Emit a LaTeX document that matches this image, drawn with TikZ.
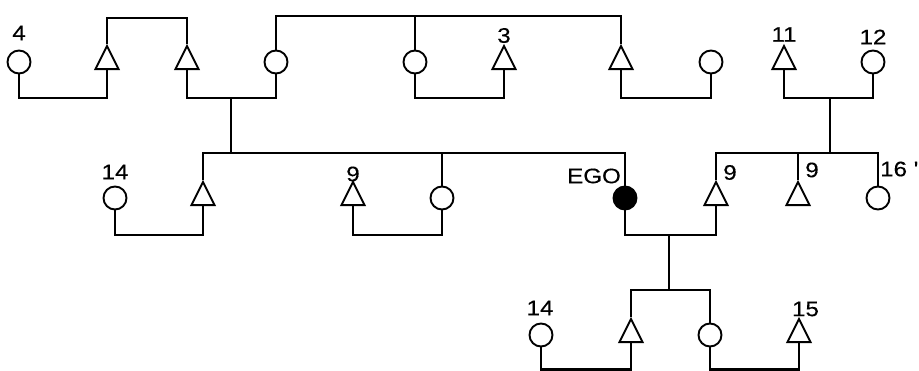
\documentclass[tikz,border=0pt]{standalone}
\usepackage{fontspec}
\usepackage{graphicx}
\setmainfont{Liberation Sans}
\newfontfamily\lblfont{Liberation Sans}[FakeBold=0.3]
\usetikzlibrary{shapes.geometric}
\newcommand\widelab[1]{\scalebox{1.15}[1]{#1}}
\begin{document}
\begin{tikzpicture}[x=1pt,y=-1pt,
  fem/.style={circle,draw,line width=1.9pt,minimum size=23pt,inner sep=0pt,fill=white},
  egonode/.style={fem,fill=black},
  male/.style={isosceles triangle,isosceles triangle stretches,shape border rotate=90,draw,line width=1.9pt,minimum width=23pt,minimum height=23pt,inner sep=0pt,fill=white},
  lnk/.style={line width=2.2pt},
  lbl/.style={font=\lblfont\fontsize{21}{24}\selectfont,inner sep=0pt}]
\useasboundingbox (0,0) rectangle (919,371);
\fill[white] (0,0) rectangle (919,371);
% levels
\coordinate (b1) at (0,18);
\coordinate (b2) at (0,16);
\coordinate (mm) at (0,98);
\coordinate (s2) at (0,153);
\coordinate (mm2) at (0,235);
\coordinate (s3) at (0,290);
\coordinate (mm3) at (0,369.5);
\coordinate (d1) at (231,98);
\coordinate (d2) at (830,98);
\coordinate (d3) at (669,235);
% row 1
\node[fem] (f4) at (19,62) {};
\node[male] (m1) at (107,62) {};
\node[male] (m2) at (187,62) {};
\node[fem] (f3) at (276,62) {};
\node[fem] (f5) at (415,62) {};
\node[male] (m3) at (504,62) {};
\node[male] (m4) at (621,62) {};
\node[fem] (f6) at (711,62) {};
\node[male] (m11) at (784,62) {};
\node[fem] (f12) at (873,62) {};
% row 2
\node[fem] (f14a) at (115,198) {};
\node[male] (m5) at (203,198) {};
\node[male] (m9a) at (353,198) {};
\node[fem] (f7) at (442,198) {};
\node[egonode] (ego) at (625,198) {};
\node[male] (m9b) at (716,198) {};
\node[male] (m9c) at (798,198) {};
\node[fem] (f16) at (878,198) {};
% row 3
\node[fem] (f14b) at (541,335) {};
\node[male] (m6) at (631,335) {};
\node[fem] (f8) at (710,335) {};
\node[male] (m15) at (799,335) {};
% labels
\node[lbl] (l4) at (19,33) {\widelab{4}};
\node[lbl] (l3) at (504,35.5) {\widelab{3}};
\node[lbl] (l11) at (784,34.5) {\widelab{11}};
\node[lbl] (l12) at (873,37) {\widelab{12}};
\node[lbl] (l14a) at (115,172) {\widelab{14}};
\node[lbl] (l9a) at (353,174) {\widelab{9}};
\node[lbl] (lego) at (594,176) {\widelab{EGO}};
\node[lbl] (l9b) at (730,172.5) {\widelab{9}};
\node[lbl] (l9c) at (812,170) {\widelab{9}};
\node[lbl,anchor=west] (l16) at (880,169) {\widelab{16 '}};
\node[lbl] (l14b) at (540,308) {\widelab{14}};
\node[lbl] (l15) at (805.5,309) {\widelab{15}};
% connectors
\begin{scope}[lnk]
\draw (f4.south) -- (f4.south |- mm) -- (m1.south |- mm) -- (m1.south);
\draw (m1.north) -- (m1.north |- b1) -- (m2.north |- b1) -- (m2.north);
\draw (m2.south) -- (m2.south |- mm) -- (f3.south |- mm) -- (f3.south);
\draw (f3.north) -- (f3.north |- b2) -- (m4.north |- b2) -- (m4.north);
\draw (f5.north) -- (f5.north |- b2);
\draw (f5.south) -- (f5.south |- mm) -- (m3.south |- mm) -- (m3.south);
\draw (m4.south) -- (m4.south |- mm) -- (f6.south |- mm) -- (f6.south);
\draw (m11.south) -- (m11.south |- mm) -- (f12.south |- mm) -- (f12.south);
\draw (d1) -- (d1 |- s2);
\draw (d2) -- (d2 |- s2);
\draw (m5.north) -- (m5.north |- s2) -- (ego.north |- s2) -- (ego.north);
\draw (f7.north) -- (f7.north |- s2);
\draw (f14a.south) -- (f14a.south |- mm2) -- (m5.south |- mm2) -- (m5.south);
\draw (m9a.south) -- (m9a.south |- mm2) -- (f7.south |- mm2) -- (f7.south);
\draw (ego.south) -- (ego.south |- mm2) -- (m9b.south |- mm2) -- (m9b.south);
\draw (m9b.north) -- (m9b.north |- s2) -- (f16.north |- s2) -- (f16.north);
\draw (m9c.north) -- (m9c.north |- s2);
\draw (d3) -- (d3 |- s3);
\draw (m6.north) -- (m6.north |- s3) -- (f8.north |- s3) -- (f8.north);
\draw (f14b.south) -- (f14b.south |- mm3) -- (m6.south |- mm3) -- (m6.south);
\draw (f8.south) -- (f8.south |- mm3) -- (m15.south |- mm3) -- (m15.south);
\end{scope}
\end{tikzpicture}
\end{document}
